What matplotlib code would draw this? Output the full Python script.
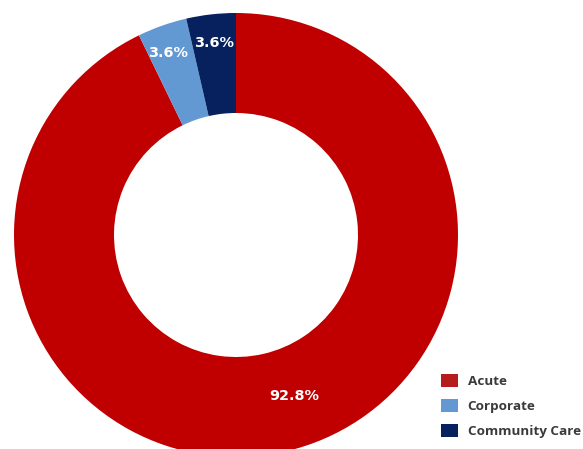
import matplotlib
matplotlib.use("Agg")
import matplotlib.pyplot as plt
from matplotlib.patches import Patch
import numpy as np

categories = ["Acute", "Corporate", "Community Care"]
shares = [92.8, 3.6, 3.6]
colors = ["#C00000", "#6399D3", "#06215E"]
legend_colors = ["#B71C1C", "#6399D3", "#06215E"]

W, H = 583, 449
fig = plt.figure(figsize=(W / 100, H / 100), dpi=100)
ax = fig.add_axes([0, 0, 1, 1])

cx, cy = 236, 214
r_out, r_in = 222, 122

wedges, _ = ax.pie(shares, colors=colors, startangle=90, counterclock=False,
                   center=(cx, cy), radius=r_out,
                   wedgeprops=dict(width=r_out - r_in, linewidth=0))
ax.set_xlim(0, W)
ax.set_ylim(0, H)
ax.set_aspect("equal")
ax.axis("off")

# percentage labels placed within each ring segment
label_pos = {"Acute": (171, 7), "Corporate": (194, 1), "Community Care": (193, 0)}
for w, cat, val in zip(wedges, categories, shares):
    mid = (w.theta1 + w.theta2) / 2
    r, dtheta = label_pos[cat]
    a = np.deg2rad(mid + dtheta)
    ax.text(cx + r * np.cos(a), cy + r * np.sin(a), f"{val:.1f}%",
            ha="center", va="center", color="white", fontsize=10.4,
            fontweight="bold", family="DejaVu Sans")

handles = [Patch(facecolor=c, edgecolor="none") for c in legend_colors]
fig.legend(handles, categories, loc="upper left", bbox_to_anchor=(0.756, 0.168),
           frameon=False, borderpad=0, borderaxespad=0,
           handlelength=1.3, handleheight=1.15, handletextpad=0.7,
           labelspacing=0.8, labelcolor="#3A3A3A",
           prop=dict(family="Open Sans", weight="bold", size=9.7))

fig.savefig("out.png", dpi=100)
